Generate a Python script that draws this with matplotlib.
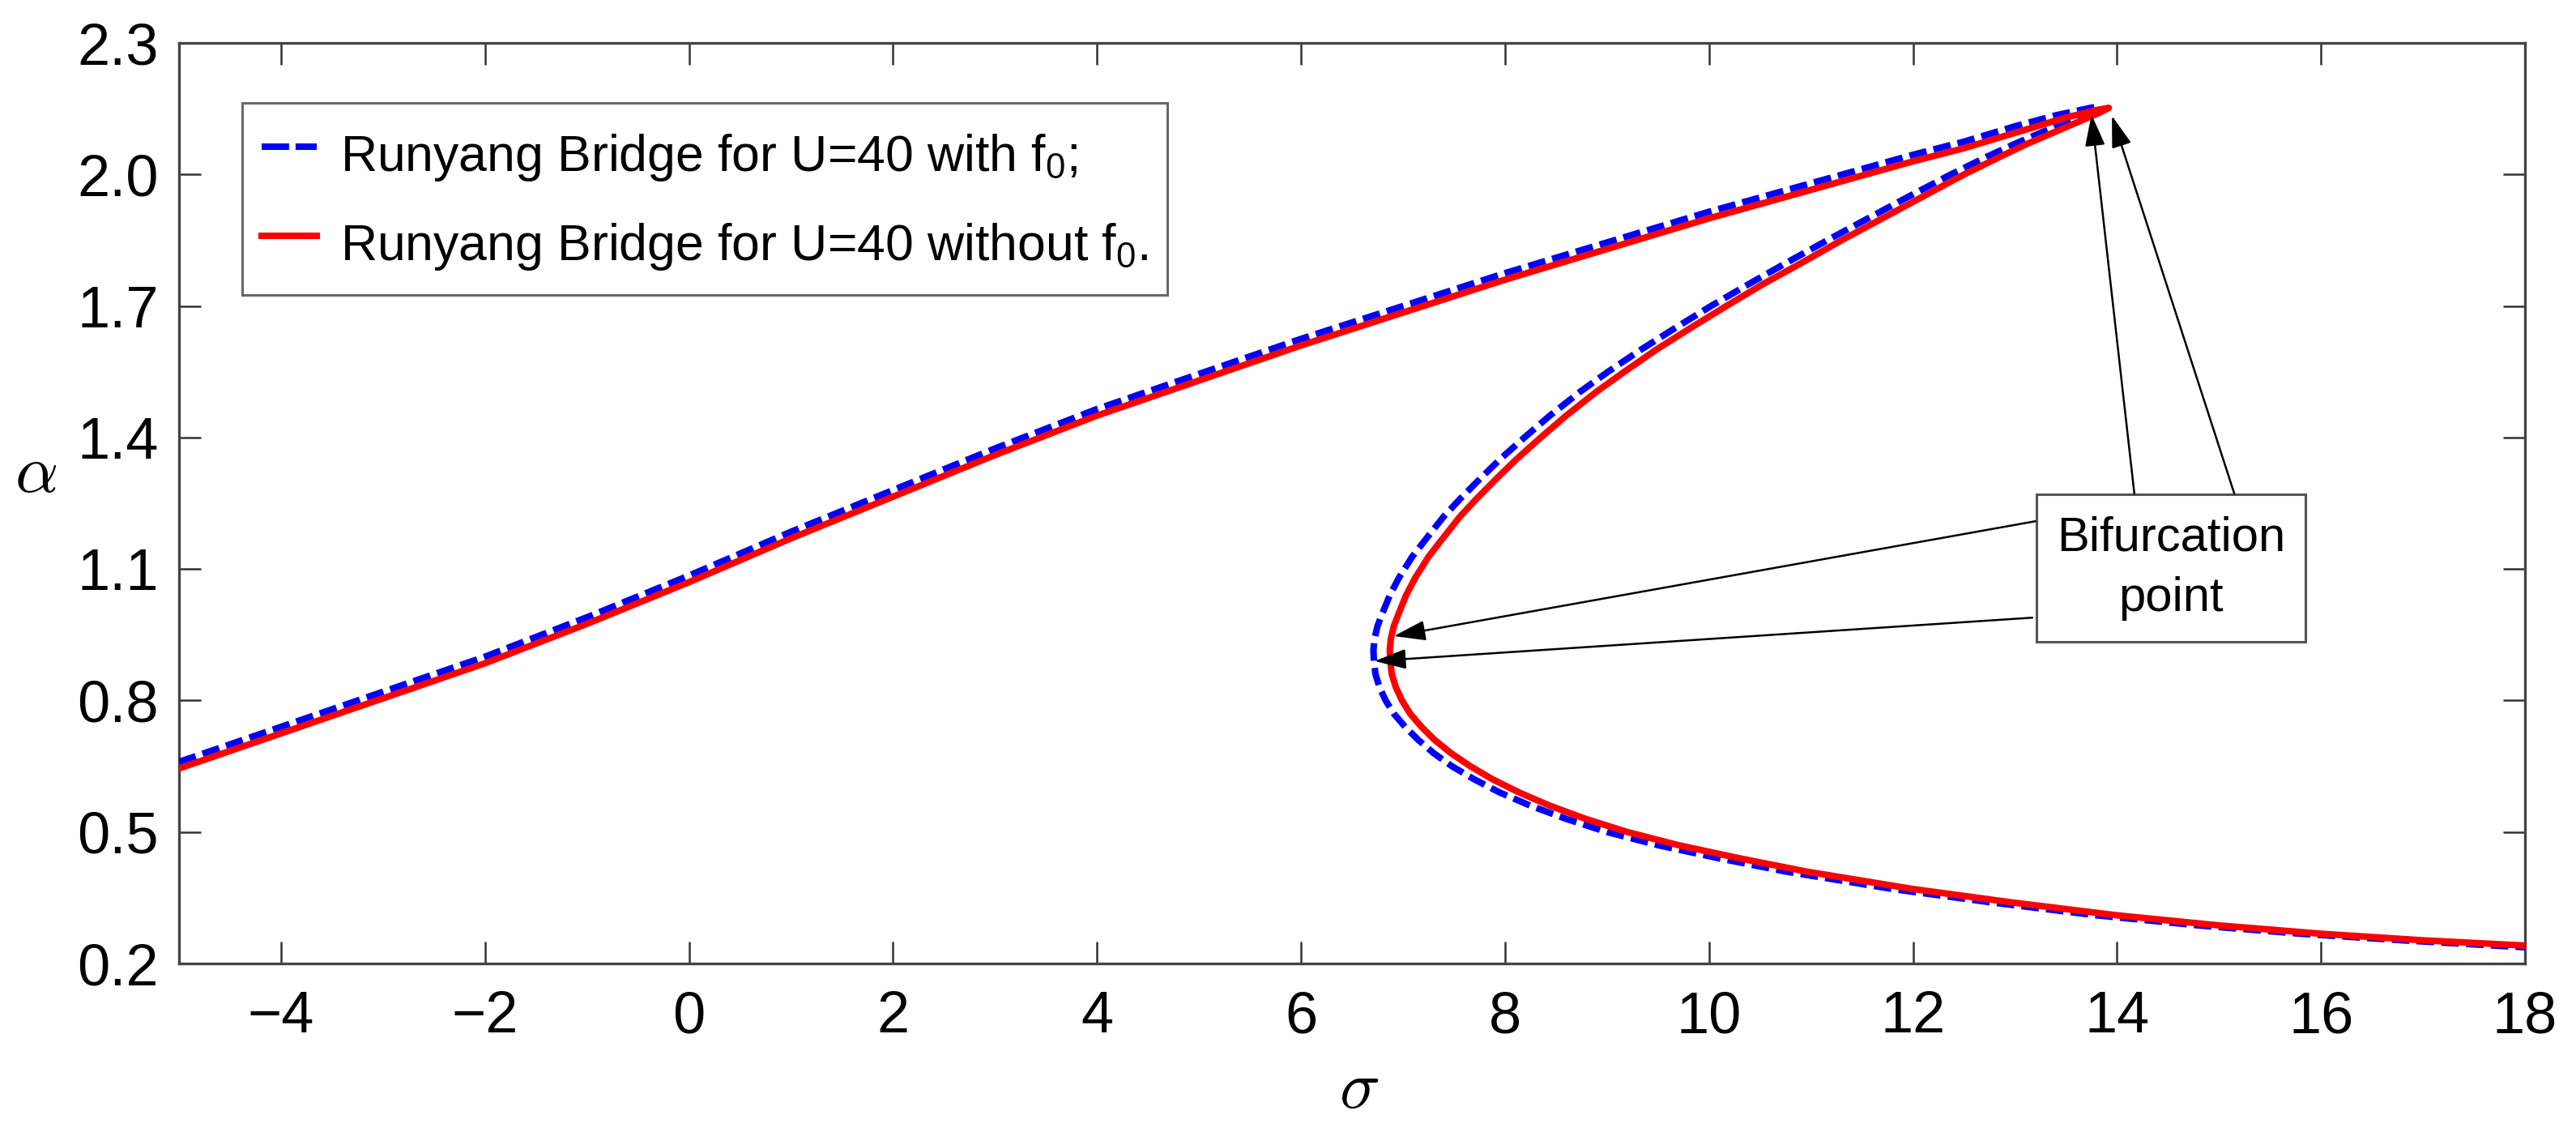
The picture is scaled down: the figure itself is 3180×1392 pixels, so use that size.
import matplotlib
matplotlib.use('Agg')
import matplotlib.pyplot as plt
from matplotlib.lines import Line2D
from matplotlib.patches import Rectangle

plt.rcParams['font.family'] = ['Liberation Sans', 'DejaVu Sans']
plt.rcParams['mathtext.fontset'] = 'custom'
plt.rcParams['mathtext.rm'] = 'Liberation Sans'
plt.rcParams['mathtext.it'] = 'Liberation Sans:italic'
plt.rcParams['mathtext.bf'] = 'Liberation Sans:bold'

# curve points, ordered along the curve
# (upper branch -> peak -> middle branch -> turning point -> lower branch)
sigma_with = [-5.0, -4.0, -3.0, -2.0, -1.0, 0.0, 1.0, 2.0, 3.0, 4.0, 5.0, 6.0, 7.0, 8.0, 9.0,
              10.0, 11.0, 12.0, 12.5, 13.0, 13.4, 13.7, 13.8,
              13.68, 13.5, 13.3, 13.0, 12.72, 12.37, 11.96, 11.56, 11.16, 10.77, 10.39, 10.02, 9.67,
              9.33, 9.01, 8.74, 8.44, 8.19, 7.95, 7.76, 7.56, 7.40, 7.23, 7.09, 6.96, 6.87, 6.80, 6.75,
              6.72, 6.71,
              6.715, 6.73, 6.77, 6.83, 6.91, 7.02, 7.15, 7.30, 7.48, 7.70, 7.95, 8.25, 8.60, 9.0, 9.5,
              10.1, 10.75, 11.8, 12.75, 13.8, 14.8, 15.8, 16.8, 18.0]
alpha_with = [0.66, 0.74, 0.82, 0.90, 0.99, 1.085, 1.185, 1.28, 1.375, 1.465, 1.545, 1.625, 1.70, 1.775, 1.845,
              1.915, 1.98, 2.045, 2.075, 2.11, 2.135, 2.15, 2.155,
              2.14, 2.12, 2.10, 2.07, 2.04, 2.0, 1.95, 1.90, 1.85, 1.80, 1.75, 1.70, 1.65,
              1.60, 1.55, 1.505, 1.45, 1.40, 1.35, 1.307, 1.26, 1.22, 1.17, 1.128, 1.08, 1.04, 1.0, 0.97,
              0.94, 0.915,
              0.89, 0.86, 0.83, 0.80, 0.77, 0.74, 0.71, 0.68, 0.65, 0.62, 0.59, 0.56, 0.53, 0.50, 0.47,
              0.44, 0.41, 0.37, 0.34, 0.31, 0.287, 0.268, 0.253, 0.237]

sigma_without = [-5.0, -4.0, -3.0, -2.0, -1.0, 0.0, 1.0, 2.0, 3.0, 4.0, 5.0, 6.0, 7.0, 8.0, 9.0,
                 10.0, 11.0, 12.0, 12.5, 13.0, 13.5, 13.8, 13.92,
                 13.82, 13.62, 13.42, 13.12, 12.85, 12.5, 12.1, 11.7, 11.3, 10.92, 10.53, 10.17, 9.82,
                 9.48, 9.17, 8.90, 8.60, 8.35, 8.11, 7.92, 7.72, 7.56, 7.39, 7.25, 7.12, 7.03, 6.96, 6.91,
                 6.88, 6.87,
                 6.875, 6.89, 6.93, 6.99, 7.07, 7.18, 7.31, 7.47, 7.66, 7.88, 8.14, 8.44, 8.79, 9.2, 9.7,
                 10.3, 10.95, 12.0, 12.95, 14.0, 15.0, 16.0, 17.0, 18.0]
alpha_without = [0.645, 0.725, 0.805, 0.885, 0.975, 1.07, 1.17, 1.265, 1.36, 1.45, 1.53, 1.61, 1.685, 1.76, 1.83,
                 1.90, 1.965, 2.03, 2.06, 2.095, 2.13, 2.147, 2.152,
                 2.14, 2.12, 2.10, 2.07, 2.04, 2.0, 1.95, 1.90, 1.85, 1.80, 1.75, 1.70, 1.65,
                 1.60, 1.55, 1.505, 1.45, 1.40, 1.35, 1.307, 1.26, 1.22, 1.17, 1.128, 1.08, 1.04, 1.0, 0.97,
                 0.94, 0.915,
                 0.89, 0.86, 0.83, 0.80, 0.77, 0.74, 0.71, 0.68, 0.65, 0.62, 0.59, 0.56, 0.53, 0.50, 0.47,
                 0.44, 0.41, 0.37, 0.34, 0.31, 0.287, 0.268, 0.253, 0.241]

labels = ['Runyang Bridge for U=40 with f$_{0}$;', 'Runyang Bridge for U=40 without f$_{0}$.']
x_ticks = [-4, -2, 0, 2, 4, 6, 8, 10, 12, 14, 16, 18]
y_ticks = [0.2, 0.5, 0.8, 1.1, 1.4, 1.7, 2.0, 2.3]

# bifurcation points the arrows point at, and where each arrow leaves the box
arrow_tips = [(13.75, 2.137), (13.95, 2.134), (6.91, 0.947), (6.72, 0.89)]
arrow_tails = [(14.17, 1.272), (15.15, 1.272), (13.20, 1.209), (13.17, 0.989)]

fig = plt.figure(figsize=(15.9, 6.96), dpi=200)
ax = fig.add_axes([0.0695, 0.1458, 0.9107, 0.8161])

ax.plot(sigma_with, alpha_with, color='#0000ff', lw=2.9, dashes=(2.7, 1.1), zorder=3)
ax.plot(sigma_without, alpha_without, color='#ff0000', lw=2.9, zorder=4)

ax.set_xlim(-5, 18)
ax.set_ylim(0.2, 2.3)
ax.set_xticks(x_ticks)
ax.set_yticks(y_ticks)
ax.set_yticklabels(['%.1f' % v for v in y_ticks])
ax.tick_params(direction='in', length=9.8, width=0.9, color='#333333', labelsize=26,
               top=True, right=True)
ax.tick_params(axis='x', pad=12)
ax.tick_params(axis='y', pad=9)
for sp in ax.spines.values():
    sp.set_color('#444444')
    sp.set_linewidth(1.2)

ax.set_xlabel(r'$\sigma$', fontsize=30, math_fontfamily='cm')
ax.xaxis.set_label_coords(0.503, -0.137)
ax.xaxis.label.set_va('center')
ax.set_ylabel(r'$\alpha$', fontsize=30, math_fontfamily='cm', rotation=0)
ax.yaxis.set_label_coords(-0.061, 0.532)
ax.yaxis.label.set_va('center')
ax.yaxis.label.set_ha('center')

# legend with its own handles (dash pattern in the legend is longer)
handles = [Line2D([], [], color='#0000ff', lw=2.9, dashes=(4.2, 1.0)),
           Line2D([], [], color='#ff0000', lw=2.9)]
leg = ax.legend(handles, labels, loc='upper left', bbox_to_anchor=(0.0269, 0.9349),
                fontsize=22.5, frameon=True, fancybox=False, borderaxespad=0,
                borderpad=0.38, handlelength=1.1, handleheight=1.6, handletextpad=0.45,
                labelspacing=0.47)
leg.get_frame().set_edgecolor('#444444')
leg.get_frame().set_linewidth(1.1)

# annotation box with arrows
ax.add_patch(Rectangle((13.21, 0.934), 2.64, 0.336, facecolor='white', edgecolor='#555555',
                       lw=1.1, zorder=5))
ax.text(14.53, 1.102, 'Bifurcation\npoint', ha='center', va='center', fontsize=21.5,
        linespacing=1.45, zorder=6)
for tip, tail in zip(arrow_tips, arrow_tails):
    ax.annotate('', xy=tip, xytext=tail, zorder=6,
                arrowprops=dict(arrowstyle='-|>,head_length=0.6,head_width=0.19',
                                mutation_scale=20, color='black', lw=0.9,
                                shrinkA=0, shrinkB=0))

fig.savefig('out.png', dpi=200, facecolor='white')
